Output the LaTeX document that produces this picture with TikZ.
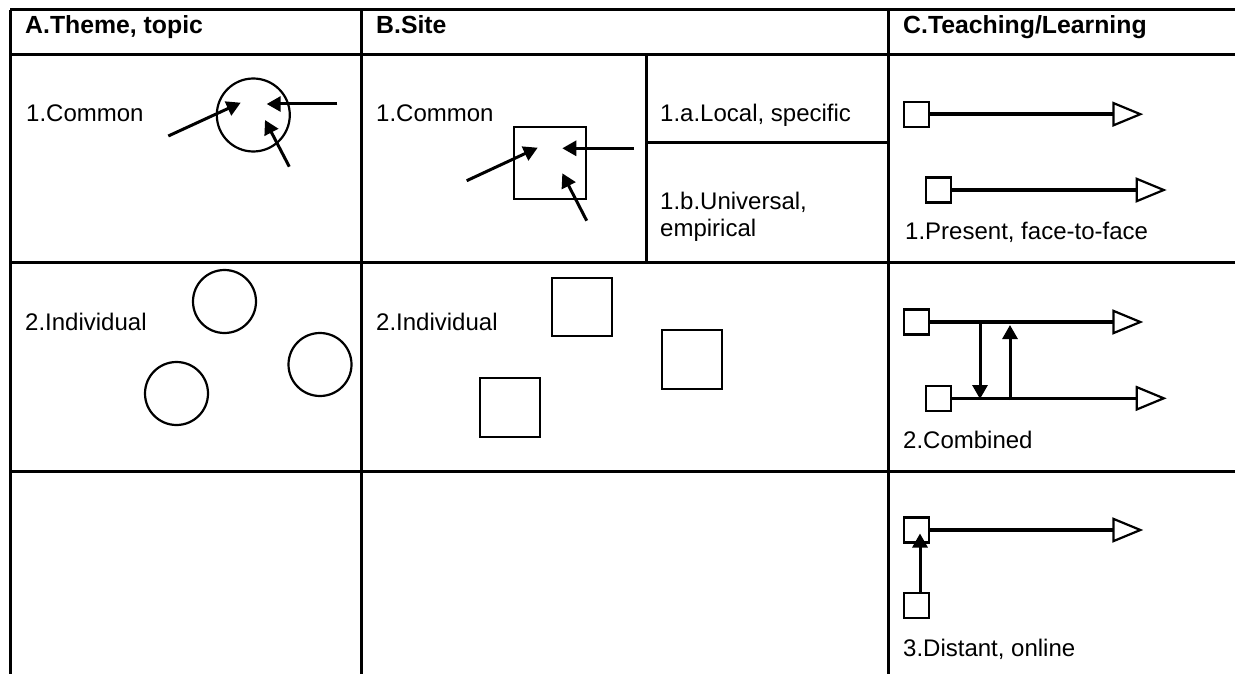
\documentclass[tikz,border=0pt]{standalone}
\usepackage{fontspec}
\setmainfont{Liberation Sans}
\usetikzlibrary{arrows.meta}
\begin{document}
\begin{tikzpicture}[x=1pt,y=-1pt,
  grid/.style={line width=3pt},
  shp/.style={draw,line width=2.2pt,inner sep=0pt},
  sqr/.style={shp,rectangle,minimum width=25pt,minimum height=25pt},
  lbl/.style={inner sep=0pt,anchor=base west,align=left,font=\fontsize{24}{26.5}\selectfont},
  hdr/.style={inner sep=0pt,anchor=base west,font=\fontsize{24.8}{27}\selectfont\bfseries},
  arr/.style={line width=3pt,-{Triangle[length=14pt,width=15pt]}},
  flow/.style={line width=3.4pt,-{Triangle[open,length=31pt,width=25pt,line width=2.2pt]}},
]
\useasboundingbox (0,0) rectangle (1235,674);
% table grid
\draw[grid] (10,10) -- (1235,10);
\draw[grid] (10,54.5) -- (1235,54.5);
\draw[grid] (10,262.5) -- (1235,262.5);
\draw[grid] (10,471) -- (1235,471);
\draw[grid] (10,10) -- (10,674);
\draw[grid] (361,10) -- (361,674);
\draw[grid] (888,10) -- (888,674);
\draw[grid] (646,54.5) -- (646,262.5);
\draw[grid] (646,143) -- (888,143);
% headers
\node[hdr] (hA) at (25,33.3) {A.Theme, topic};
\node[hdr] (hB) at (376,33.3) {B.Site};
\node[hdr] (hC) at (903,33.3) {C.Teaching/Learning};
% row 1 labels
\node[lbl] (a1) at (26,121.7) {1.Common};
\node[lbl] (b1) at (376,121.7) {1.Common};
\node[lbl] (b1a) at (660,121.7) {1.a.Local, specific};
\node[lbl] (b1b) at (660,236.5) {1.b.Universal,\\empirical};
\node[lbl] (c1) at (905,240) {1.Present, face-to-face};
% row 2 labels
\node[lbl] (a2) at (25,330) {2.Individual};
\node[lbl] (b2) at (376,330) {2.Individual};
\node[lbl] (c2) at (903,448.3) {2.Combined};
% row 3 label
\node[lbl] (c3) at (903,656.7) {3.Distant, online};
% A row 1: common circle with arrows
\node[shp,circle,minimum size=73pt] (circ) at (253.3,115) {};
\coordinate (aa1s) at (168.3,136);  \coordinate (aa1e) at (240.7,102.7);
\coordinate (aa2s) at (337.3,104);  \coordinate (aa2e) at (266.7,104);
\coordinate (aa3s) at (289.3,166.7); \coordinate (aa3e) at (265,120);
\draw[arr] (aa1s) -- (aa1e);
\draw[arr] (aa2s) -- (aa2e);
\draw[arr] (aa3s) -- (aa3e);
% A row 2: individual circles
\node[shp,circle,minimum size=63pt] (ci1) at (224.5,301.5) {};
\node[shp,circle,minimum size=63pt] (ci2) at (320,364.5) {};
\node[shp,circle,minimum size=63pt] (ci3) at (176.5,393.5) {};
% B row 1: common square with arrows
\node[shp,rectangle,minimum width=72pt,minimum height=72pt,line width=2pt] (sq) at (549.5,163.2) {};
\coordinate (ba1s) at (466.7,180.7); \coordinate (ba1e) at (537.7,147.7);
\coordinate (ba2s) at (634,148.3);   \coordinate (ba2e) at (562.3,148.3);
\coordinate (ba3s) at (586.7,220.7); \coordinate (ba3e) at (562.3,173.3);
\draw[arr] (ba1s) -- (ba1e);
\draw[arr] (ba2s) -- (ba2e);
\draw[arr] (ba3s) -- (ba3e);
% B row 2: individual squares
\node[shp,rectangle,minimum width=60pt,minimum height=58pt] (si1) at (582,307) {};
\node[shp,rectangle,minimum width=60pt,minimum height=59pt] (si2) at (692,359.7) {};
\node[shp,rectangle,minimum width=60pt,minimum height=59pt] (si3) at (510,407.5) {};
% C row 1
\node[sqr] (p1) at (916.7,114.2) {};
\node[sqr] (p2) at (938.2,190) {};
\coordinate (p1e) at (1143.3,114.2);
\coordinate (p2e) at (1166.7,190);
\draw[flow] (p1.east) -- (p1e);
\draw[flow] (p2.east) -- (p2e);
% C row 2
\node[sqr] (q1) at (916.7,322) {};
\node[sqr] (q2) at (938.2,398.3) {};
\coordinate (q1e) at (1143.3,322);
\coordinate (q2e) at (1166.7,398.3);
\draw[flow] (q1.east) -- (q1e);
\draw[flow] (q2.east) -- (q2e);
\coordinate (qd1) at (980,324); \coordinate (qd2) at (980,399);
\coordinate (qu1) at (1010,400); \coordinate (qu2) at (1010,325);
\draw[arr] (qd1) -- (qd2);
\draw[arr] (qu1) -- (qu2);
% C row 3
\node[sqr] (r1) at (916.7,530) {};
\node[sqr] (r2) at (916.7,605.8) {};
\coordinate (r1e) at (1143.3,530);
\draw[flow] (r1.east) -- (r1e);
\coordinate (ru) at (920,533.5);
\draw[arr] (r2.north -| ru) -- (ru);
\end{tikzpicture}
\end{document}
